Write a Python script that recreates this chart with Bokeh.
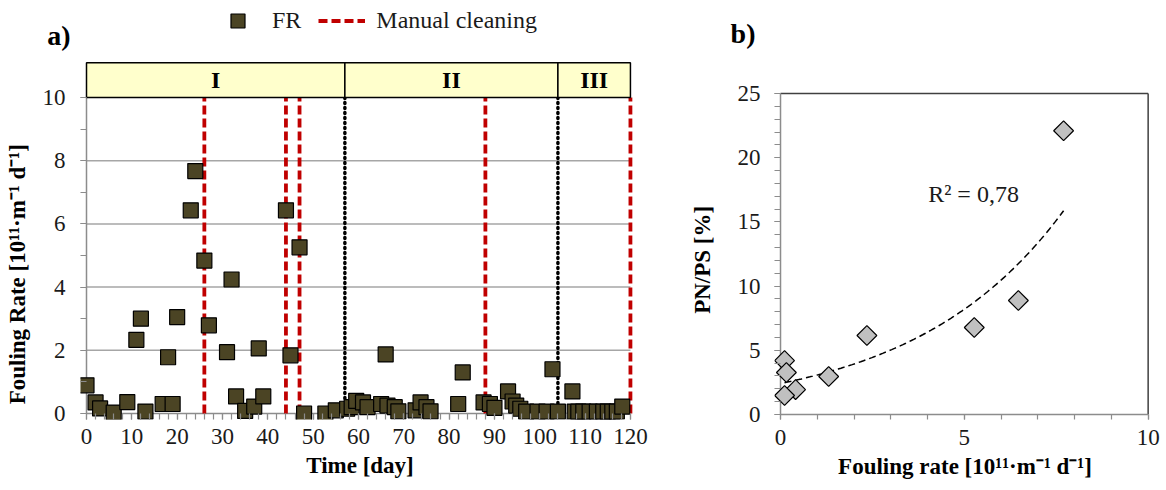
import numpy as np
from bokeh.plotting import figure
from bokeh.layouts import row
from bokeh.models import SingleIntervalTicker, FixedTicker, Legend, LegendItem, LinearAxis
from bokeh.embed import file_html
from bokeh.resources import INLINE

# ---------------- data ----------------
day = [0, 2, 3, 6, 9, 11, 12, 13, 16.8, 18, 19, 20, 23, 24, 26, 27, 31, 32, 33, 35, 37, 38, 39,
       44, 45, 47, 48, 52.7, 55, 57.5, 58.5, 59.5, 61, 62, 65, 66, 66.4, 68, 68.8, 72.6, 73.7, 75,
       75.9, 82, 83, 87.6, 89, 90, 93, 94, 94.8, 95.7, 97, 99.5, 101.5, 102.8, 104, 107.2, 107.7,
       108.5, 109.6, 111, 112.6, 114, 115, 116, 117, 118.2]
fr = [0.89, 0.35, 0.16, 0.03, 0.36, 2.33, 3.0, 0.06, 0.3, 1.78, 0.3, 3.05, 6.43, 7.67, 4.84, 2.79,
      1.94, 4.24, 0.54, 0.08, 0.22, 2.06, 0.54, 6.43, 1.84, 5.26, 0.0, 0.0, 0.1, 0.15, 0.2, 0.4,
      0.35, 0.2, 0.3, 1.87, 0.25, 0.2, 0.07, 0.1, 0.35, 0.2, 0.07, 0.3, 1.3, 0.35, 0.3, 0.18, 0.7,
      0.38, 0.25, 0.15, 0.06, 0.06, 0.06, 1.4, 0.06, 0.7, 0.06, 0.06, 0.06, 0.06, 0.06, 0.06, 0.06,
      0.06, 0.06, 0.22]
cleaning_days = [26, 44, 47, 88, 120]
phase_change_days = [57, 104]
phase_names = ["I", "II", "III"]
phase_start = [0, 57, 104]
phase_end = [57, 104, 120]
grid_levels = [2, 4, 6, 8]

fr_b = [7.7, 6.47, 5.27, 2.35, 1.31, 0.41, 0.11, 0.16, 0.11]
pnps = [22.1, 8.88, 6.78, 6.15, 2.96, 1.94, 4.2, 3.27, 1.48]
r2_label = "R² = 0,78"

ylabel_a = "Fouling Rate  [10¹¹·m⁻¹ d⁻¹]"
ylabel_b = "PN/PS [%]"
xlabel_a = "Time [day]"
xlabel_b = "Fouling rate [10¹¹·m⁻¹ d⁻¹]"

SERIF = "Liberation Serif"
AXIS_GRAY = "#8C8C8C"
TICK_FS = "23px"
LABEL_FS = "23px"
NBSP = "\u00a0"


def style_axis(ax, tick_len):
    ax.axis_line_color = None
    ax.major_tick_line_color = AXIS_GRAY
    ax.minor_tick_line_color = AXIS_GRAY
    ax.major_tick_line_width = 1.2
    ax.minor_tick_line_width = 1.2
    ax.major_tick_in = tick_len
    ax.major_tick_out = 0
    ax.minor_tick_in = tick_len
    ax.minor_tick_out = 0
    ax.major_label_text_font = SERIF
    ax.major_label_text_font_size = TICK_FS
    ax.major_label_text_color = "#1a1a1a"
    ax.axis_label_text_font = SERIF
    ax.axis_label_text_font_size = LABEL_FS
    ax.axis_label_text_font_style = "bold"
    ax.axis_label_text_color = "black"


def label_axis(tick, panel_text, standoff, axis_label, label_standoff):
    return LinearAxis(ticker=FixedTicker(ticks=[tick]), major_label_overrides={tick: panel_text},
                      axis_line_color=None, major_tick_line_color=None,
                      minor_tick_line_color=None, major_tick_in=0, major_tick_out=0,
                      minor_tick_in=0, minor_tick_out=0, major_label_standoff=standoff,
                      major_label_text_font=SERIF, major_label_text_font_size="28px",
                      major_label_text_font_style="bold", major_label_text_color="black",
                      axis_label=axis_label, axis_label_standoff=label_standoff,
                      axis_label_text_font=SERIF, axis_label_text_font_size=LABEL_FS,
                      axis_label_text_font_style="bold", axis_label_text_color="black")


# ---------------- panel a ----------------
pa = figure(frame_width=559, frame_height=417, x_range=(-1.324, 122), y_range=(-0.19, 13.006),
            min_border_left=80, min_border_right=21, min_border_top=2, min_border_bottom=71,
            output_backend="svg", toolbar_location=None, title=None)
pa.outline_line_color = None
pa.grid.visible = False

pa.segment(x0=[0] * len(grid_levels), x1=[120] * len(grid_levels), y0=grid_levels, y1=grid_levels,
           line_color="#A6A6A6", line_width=1.5)
pa.segment(x0=[0, 0], x1=[120, 0], y0=[0, 0], y1=[0, 10], line_color=AXIS_GRAY, line_width=1.5)
pa.segment(x0=phase_change_days, x1=phase_change_days, y0=[0] * 2, y1=[10] * 2,
           line_color="black", line_width=3.5, line_dash="1 4", line_cap="round")
red = pa.segment(x0=cleaning_days, x1=cleaning_days, y0=[0] * len(cleaning_days),
                 y1=[10] * len(cleaning_days), line_color="#C00000", line_width=3.8,
                 line_dash="9 4")
pa.quad(left=phase_start, right=phase_end, bottom=[10] * 3, top=[11.1] * 3,
        fill_color="#FFFFCC", line_color="black", line_width=1.5)
pa.text(x=[(a + b) / 2 for a, b in zip(phase_start, phase_end)], y=[10.55] * 3, text=phase_names,
        text_align="center", text_baseline="middle", text_font_size="24px",
        text_font_style="bold", text_font={"value": SERIF}, text_color="black")
sq = pa.scatter(day, fr, marker="square", size=15, fill_color="#4B4424", line_color="black",
                line_width=1.2)

style_axis(pa.xaxis[0], 6)
style_axis(pa.yaxis[0], 6)
pa.xaxis[0].ticker = SingleIntervalTicker(interval=10, num_minor_ticks=5)
pa.xaxis[0].bounds = (0, 120)
pa.xaxis[0].axis_label = xlabel_a
pa.xaxis[0].major_label_standoff = 9
pa.xaxis[0].axis_label_standoff = 6
pa.yaxis[0].ticker = SingleIntervalTicker(interval=2, num_minor_ticks=2)
pa.yaxis[0].bounds = (0, 10)
pa.yaxis[0].major_label_standoff = 15
pa.add_layout(label_axis(11.95, "a)", -31, ylabel_a + NBSP * 21, 14), "left")

legend = Legend(items=[LegendItem(label="FR", renderers=[sq]),
                       LegendItem(label="Manual cleaning", renderers=[red])],
                orientation="horizontal", location=(134, 381), padding=0, margin=0,
                glyph_width=47, glyph_height=35, label_standoff=11, spacing=17,
                label_text_font=SERIF, label_text_font_size="24px", label_text_color="#1a1a1a",
                background_fill_alpha=0, border_line_color=None)
pa.add_layout(legend)

# ---------------- panel b ----------------
pb = figure(frame_width=381, frame_height=417, x_range=(-0.1635, 10.2), y_range=(-0.389, 32.09),
            min_border_left=114, min_border_right=11, min_border_top=2, min_border_bottom=71,
            output_backend="svg", toolbar_location=None, title=None)
pb.outline_line_color = None
pb.grid.visible = False

pb.segment(x0=[0, 10], x1=[10, 10], y0=[25, 0], y1=[25, 25], line_color="#404040", line_width=1.5)
pb.segment(x0=[0, 0], x1=[10, 0], y0=[0, 0], y1=[0, 25], line_color=AXIS_GRAY, line_width=1.5)

coef = np.polyfit(fr_b, np.log(pnps), 1)
xf = np.linspace(min(fr_b), max(fr_b), 100)
pb.line(xf, np.exp(coef[1]) * np.exp(coef[0] * xf), line_color="black", line_width=1.5,
        line_dash="7 4")
pb.scatter(fr_b, pnps, marker="square", angle=np.pi / 4, size=14, fill_color="#C0C0C0",
           line_color="black", line_width=1.2)
pb.text(x=[5.25], y=[17.2], text=[r2_label], text_font={"value": SERIF}, text_font_size="24px",
        text_align="center", text_baseline="middle", text_color="#1a1a1a")

style_axis(pb.xaxis[0], 5)
style_axis(pb.yaxis[0], 6)
pb.xaxis[0].ticker = SingleIntervalTicker(interval=5, num_minor_ticks=5)
pb.xaxis[0].bounds = (0, 10)
pb.xaxis[0].axis_label = xlabel_b
pb.xaxis[0].major_label_standoff = 10
pb.xaxis[0].axis_label_standoff = 6
pb.yaxis[0].ticker = SingleIntervalTicker(interval=5, num_minor_ticks=5)
pb.yaxis[0].bounds = (0, 25)
pb.yaxis[0].major_label_standoff = 14
pb.add_layout(label_axis(29.7, "b)", -21, ylabel_b + NBSP * 17, 13), "left")

layout = row(pa, pb)
open("out.html", "w").write(file_html(layout, INLINE))
